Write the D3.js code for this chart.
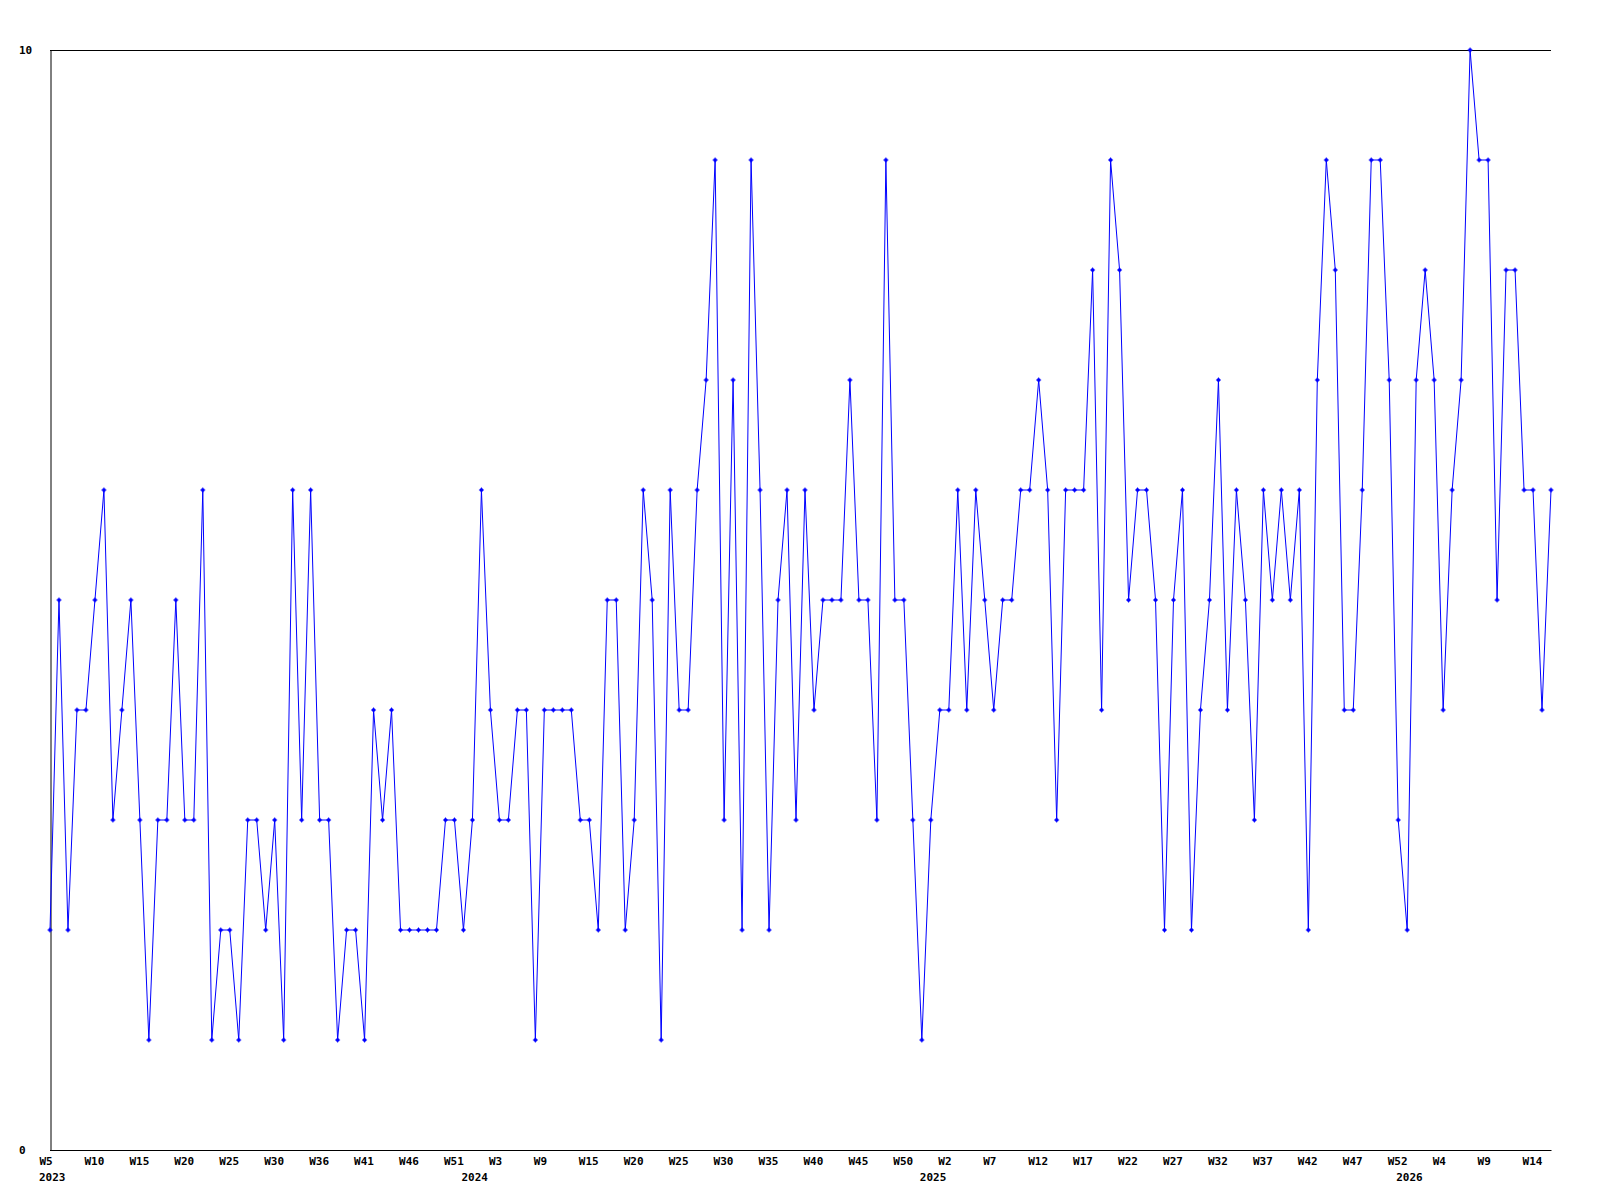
<!DOCTYPE html>
<html>
<head>
<meta charset="utf-8">
<script src="https://cdn.jsdelivr.net/npm/d3@7"></script>
<style>
  html, body { margin: 0; padding: 0; background: #fff; }
  svg { display: block; }
  .lbl { font-family: "DejaVu Sans Mono", "Liberation Mono", monospace; font-weight: bold; font-size: 11px; fill: #000; }
</style>
</head>
<body>
<svg id="chart" width="1600" height="1200"></svg>
<script>
// Weekly values, 2023 W5 .. 2026 W16 (one per week)
const values = [
  2,5,2,4,4,5,6,3,4,5,3,1,3,3,5,3,3,6,1,2,2,1,3,3,2,3,1,6,
  3,6,3,3,1,2,2,1,4,3,4,2,2,2,2,2,3,3,2,3,6,4,3,3,4,4,1,4,
  4,4,4,3,3,2,5,5,2,3,6,5,1,6,4,4,6,7,9,3,7,2,9,6,2,5,6,3,
  6,4,5,5,5,7,5,5,3,9,5,5,3,1,3,4,4,6,4,6,5,4,5,5,6,6,7,6,
  3,6,6,6,8,4,9,8,5,6,6,5,2,5,6,2,4,5,7,4,6,5,3,6,5,6,5,6,
  2,7,9,8,4,4,6,9,9,7,3,2,7,8,7,4,6,7,10,9,9,5,8,8,6,6,4,6
];
// Tick labels, one every 5 weeks starting with the first week
const tickLabels = ["W5","W10","W15","W20","W25","W30","W36","W41","W46","W51",
  "W3","W9","W15","W20","W25","W30","W35","W40","W45","W50",
  "W2","W7","W12","W17","W22","W27","W32","W37","W42","W47","W52",
  "W4","W9","W14"];
const tickStep = 5;
// Year labels and the week index where each year starts
const yearLabels = ["2023","2024","2025","2026"];
const yearStartWeek = [0,47,98,151];
const yTicks = [0, 10];

const svg = d3.select("#chart");
const L = 50, R = 1551, T = 50, B = 1150;

const x = d3.scaleLinear().domain([0, values.length - 1]).range([L, R]);
const y = d3.scaleLinear().domain([0, 10]).range([B, T]);

// top frame line
svg.append("line").attr("x1", L).attr("x2", R).attr("y1", T + 0.5).attr("y2", T + 0.5)
  .attr("stroke", "#000").attr("stroke-width", 1);

// x axis
const tickIdx = tickLabels.map((d, i) => i * tickStep);
const xAxis = d3.axisBottom(x).tickValues(tickIdx)
  .tickFormat((d, i) => tickLabels[i]).tickSize(0).tickSizeOuter(0).tickPadding(7);
const gx = svg.append("g").attr("transform", `translate(0.5,${B + 0.5})`).call(xAxis);
gx.select(".domain").attr("stroke", "#000").attr("d", `M${L - 0.5},0H${R}`);
gx.selectAll("text").attr("class", "lbl").attr("text-anchor", "start").attr("dx", -11.5);
gx.attr("font-family", null).attr("font-size", null);

// year labels
svg.append("g").selectAll("text").data(yearLabels).join("text")
  .attr("class", "lbl")
  .attr("x", (d, i) => x(yearStartWeek[i]) - 11)
  .attr("y", 1181)
  .text(d => d);

// y axis
const yAxis = d3.axisLeft(y).tickValues(yTicks).tickFormat(d3.format("d")).tickSize(0).tickSizeOuter(0).tickPadding(0);
const gy = svg.append("g").attr("transform", `translate(${L + 0.5},0.5)`).call(yAxis);
gy.select(".domain").attr("stroke", "#000");
gy.selectAll("text").attr("class", "lbl").attr("text-anchor", "start").attr("x", 19 - L - 0.5).attr("dy", "0.25em");
gy.attr("font-family", null).attr("font-size", null);

// line
const line = d3.line().x((d, i) => x(i)).y(d => y(d));
svg.append("path").datum(values)
  .attr("d", line)
  .attr("fill", "none")
  .attr("stroke", "#0000ff")
  .attr("stroke-width", 1);

// markers
const mk = svg.append("g").attr("stroke", "#0000ff").attr("stroke-width", 1).attr("fill", "#0000ff");
mk.selectAll("path").data(values).join("path")
  .attr("d", (d, i) => {
    const cx = x(i), cy = y(d);
    return `M${cx - 2.5},${cy}H${cx + 2.5}M${cx},${cy - 2.5}V${cy + 2.5}`;
  });
mk.selectAll("rect").data(values).join("rect")
  .attr("x", (d, i) => x(i) - 1.5).attr("y", d => y(d) - 1.5)
  .attr("width", 3).attr("height", 3).attr("stroke", "none");
</script>
</body>
</html>
